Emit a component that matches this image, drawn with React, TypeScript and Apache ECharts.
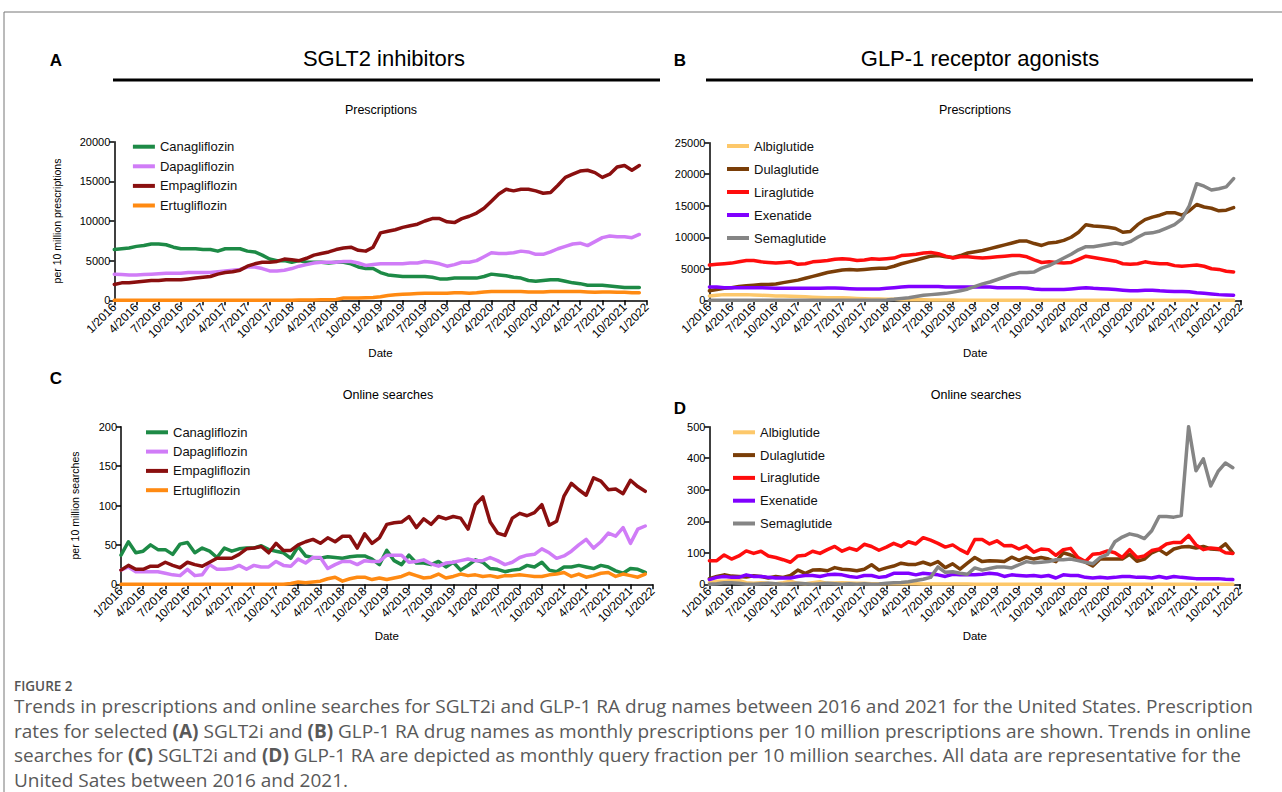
import React, { useEffect, useRef } from "react";
import * as echarts from "echarts";

const X_TICKS = [
  "1/2016", "4/2016", "7/2016", "10/2016", "1/2017", "4/2017", "7/2017", "10/2017",
  "1/2018", "4/2018", "7/2018", "10/2018", "1/2019", "4/2019", "7/2019", "10/2019",
  "1/2020", "4/2020", "7/2020", "10/2020", "1/2021", "4/2021", "7/2021", "10/2021", "1/2022",
];

const SGLT2_NAMES = ["Canagliflozin", "Dapagliflozin", "Empagliflozin", "Ertugliflozin"];
const SGLT2_COLORS = ["#1d8a46", "#d07cf7", "#8a0f0f", "#ff8a12"];
const GLP1_NAMES = ["Albiglutide", "Dulaglutide", "Liraglutide", "Exenatide", "Semaglutide"];
const GLP1_COLORS = ["#fdc86a", "#7a3e08", "#ff0d0d", "#8000ff", "#858585"];

// Panel A: SGLT2 prescriptions per 10 million prescriptions (monthly, 1/2016 - 12/2021)
const A_CANA = [6400, 6500, 6600, 6800, 6900, 7100, 7100, 7000, 6700, 6500, 6500, 6500,
  6400, 6400, 6200, 6500, 6500, 6500, 6200, 6100, 5700, 5200, 5000, 5000,
  4800, 5000, 4800, 4800, 4800, 4700, 4800, 4800, 4600, 4200, 4000, 4000,
  3500, 3200, 3100, 3000, 3000, 3000, 3000, 2900, 2700, 2700, 2800, 2800,
  2800, 2800, 3000, 3300, 3200, 3100, 2900, 2800, 2500, 2400, 2500, 2600,
  2600, 2400, 2200, 2100, 1900, 1900, 1900, 1800, 1700, 1600, 1600, 1600];
const A_DAPA = [3300, 3250, 3200, 3200, 3250, 3300, 3350, 3400, 3400, 3400, 3500, 3500,
  3500, 3500, 3600, 3700, 3800, 3900, 4200, 4200, 4000, 3700, 3700, 3800,
  4000, 4300, 4500, 4700, 4800, 4800, 4800, 4900, 4900, 4700, 4400, 4500,
  4600, 4600, 4600, 4600, 4700, 4700, 4900, 4800, 4600, 4300, 4500, 4800,
  4800, 5000, 5500, 6000, 5900, 5900, 6000, 6200, 6100, 5800, 5800, 6100,
  6500, 6800, 7100, 7200, 6900, 7400, 7900, 8100, 8000, 8000, 7900, 8300];
const A_EMPA = [2000, 2200, 2200, 2300, 2400, 2500, 2500, 2600, 2600, 2600, 2700, 2800,
  2900, 3000, 3300, 3500, 3600, 3800, 4300, 4600, 4800, 4800, 4900, 5200,
  5100, 5000, 5300, 5700, 5900, 6100, 6400, 6600, 6700, 6300, 6200, 6700,
  8500, 8700, 8900, 9200, 9400, 9600, 10000, 10300, 10300, 9900, 9800, 10300,
  10600, 11000, 11600, 12500, 13400, 14000, 13800, 14000, 14000, 13800, 13500, 13600,
  14500, 15500, 15900, 16300, 16400, 16100, 15500, 15900, 16800, 17000, 16400, 17000];
const A_ERTU = [0, 0, 0, 0, 0, 0, 0, 0, 0, 0, 0, 0,
  0, 0, 0, 0, 0, 0, 0, 0, 0, 0, 0, 0,
  20, 30, 40, 50, 60, 80, 100, 300, 300, 300, 320, 350,
  450, 600, 700, 750, 800, 850, 900, 900, 900, 900, 950, 950,
  900, 950, 1050, 1100, 1100, 1100, 1100, 1100, 1050, 1050, 1050, 1100,
  1100, 1100, 1100, 1100, 1050, 1000, 1050, 1050, 1000, 1000, 950, 950];

// Panel B: GLP-1 RA prescriptions per 10 million prescriptions
const B_ALBI = [700, 800, 900, 900, 900, 900, 850, 800, 750, 700, 700, 650,
  600, 550, 500, 450, 400, 400, 400, 350, 300, 250, 200, 200,
  150, 150, 100, 100, 100, 80, 60, 50, 40, 30, 20, 10,
  0, 0, 0, 0, 0, 0, 0, 0, 0, 0, 0, 0,
  0, 0, 0, 0, 0, 0, 0, 0, 0, 0, 0, 0,
  0, 0, 0, 0, 0, 0, 0, 0, 0, 0, 0, 0];
const B_DULA = [1500, 1700, 1900, 2000, 2200, 2300, 2400, 2500, 2500, 2600, 2800, 3000,
  3200, 3500, 3800, 4100, 4400, 4600, 4800, 4900, 4800, 4900, 5000, 5100,
  5100, 5400, 5800, 6100, 6400, 6700, 7000, 7100, 6900, 6800, 7100, 7500,
  7700, 7900, 8200, 8500, 8800, 9100, 9400, 9400, 9000, 8700, 9100, 9200,
  9500, 10000, 10800, 12000, 11800, 11700, 11600, 11400, 10800, 10900, 12000, 12800,
  13200, 13500, 13900, 13900, 13500, 14200, 15200, 14800, 14600, 14200, 14300, 14700];
const B_LIRA = [5600, 5700, 5800, 5900, 6100, 6300, 6300, 6100, 6000, 5900, 6000, 6100,
  5700, 5800, 6100, 6200, 6300, 6500, 6600, 6500, 6300, 6400, 6600, 6500,
  6600, 6700, 7100, 7200, 7300, 7500, 7600, 7400, 7000, 6700, 6900, 6900,
  6800, 6700, 6800, 6900, 7000, 7100, 7100, 6900, 6400, 6000, 6100, 6000,
  5900, 6000, 6500, 7000, 6800, 6600, 6400, 6200, 5800, 5700, 5800, 6100,
  5900, 5800, 5800, 5500, 5400, 5500, 5600, 5400, 5000, 4900, 4600, 4500];
const B_EXEN = [2100, 2100, 2000, 2000, 2000, 2000, 2000, 2000, 1950, 1900, 1900, 1900,
  1900, 1900, 1900, 1900, 1950, 1950, 1900, 1850, 1800, 1800, 1800, 1800,
  1900, 2000, 2100, 2200, 2200, 2200, 2200, 2200, 2100, 2100, 2100, 2100,
  2100, 2100, 2100, 2000, 2000, 2000, 2000, 1950, 1800, 1700, 1700, 1700,
  1700, 1800, 1900, 2000, 1900, 1850, 1800, 1700, 1600, 1500, 1500, 1600,
  1600, 1500, 1450, 1400, 1400, 1350, 1200, 1100, 1000, 900, 850, 800];
const B_SEMA = [0, 0, 0, 0, 0, 0, 0, 0, 0, 0, 0, 0,
  0, 0, 0, 0, 0, 0, 0, 0, 0, 0, 0, 0,
  50, 150, 300, 400, 600, 800, 900, 1000, 1100, 1300, 1500, 1800,
  2200, 2600, 2900, 3300, 3700, 4100, 4400, 4400, 4500, 5100, 5500, 6100,
  6700, 7300, 8000, 8500, 8500, 8700, 8900, 9100, 8900, 9300, 10000, 10600,
  10700, 11000, 11500, 12000, 12900, 15000, 18500, 18100, 17500, 17700, 18000, 19300];

// Panel C: SGLT2 online searches per 10 million searches
const C_CANA = [37, 54, 40, 42, 50, 44, 44, 38, 51, 53, 40, 46,
  42, 34, 46, 42, 45, 46, 46, 49, 44, 42, 40, 33,
  48, 36, 34, 33, 35, 34, 33, 35, 36, 36, 32, 25,
  43, 30, 25, 37, 27, 27, 25, 29, 22, 28, 18, 24,
  31, 28, 20, 19, 16, 18, 19, 24, 22, 28, 18, 16,
  22, 22, 24, 22, 20, 24, 22, 17, 14, 20, 19, 15];
const C_DAPA = [18, 22, 16, 16, 16, 16, 14, 12, 11, 19, 11, 12,
  25, 19, 19, 20, 24, 19, 24, 22, 22, 29, 24, 23,
  32, 27, 34, 34, 20, 25, 29, 29, 25, 30, 29, 29,
  37, 37, 37, 28, 29, 31, 26, 23, 27, 28, 30, 32,
  30, 30, 34, 30, 25, 28, 34, 37, 38, 45, 40, 33,
  36, 42, 50, 57, 46, 54, 65, 61, 72, 52, 70, 74];
const C_EMPA = [18, 24, 19, 19, 23, 23, 28, 24, 21, 28, 25, 23,
  28, 33, 33, 33, 38, 45, 46, 48, 40, 52, 43, 43,
  50, 54, 57, 52, 59, 54, 61, 61, 46, 64, 52, 59,
  76, 78, 79, 86, 72, 83, 76, 86, 83, 86, 84, 70,
  101, 111, 79, 65, 62, 84, 90, 87, 91, 101, 75, 80,
  112, 128, 120, 113, 135, 131, 120, 121, 115, 132, 124, 118];
const C_ERTU = [0, 0, 0, 0, 0, 0, 0, 0, 0, 0, 0, 0,
  0, 0, 0, 0, 0, 0, 0, 0, 0, 0, 0, 1,
  3, 2, 3, 4, 7, 9, 4, 7, 9, 9, 6, 8,
  6, 8, 10, 14, 11, 8, 9, 13, 8, 10, 13, 11,
  12, 10, 11, 9, 11, 11, 12, 11, 10, 10, 12, 13,
  15, 10, 13, 9, 11, 14, 15, 10, 13, 11, 9, 13];

// Panel D: GLP-1 RA online searches per 10 million searches
const D_ALBI = [5, 10, 10, 12, 12, 5, 3, 5, 3, 2, 5, 10,
  3, 2, 5, 8, 3, 4, 5, 4, 3, 3, 2, 2,
  2, 2, 2, 2, 2, 1, 1, 1, 1, 1, 1, 1,
  0, 0, 0, 0, 0, 0, 0, 0, 0, 0, 0, 0,
  0, 0, 0, 0, 0, 0, 0, 0, 0, 0, 0, 0,
  0, 0, 0, 0, 0, 0, 0, 0, 0, 0, 0, 0];
const D_DULA = [18, 25, 30, 26, 25, 23, 27, 25, 20, 25, 22, 28,
  45, 35, 45, 46, 43, 53, 48, 46, 43, 48, 62, 45,
  52, 58, 67, 63, 63, 70, 62, 72, 53, 65, 48, 67,
  85, 72, 75, 74, 72, 86, 76, 86, 80, 85, 80, 72,
  100, 93, 83, 70, 58, 80, 80, 80, 80, 95, 73, 80,
  100, 110, 95, 112, 118, 120, 115, 120, 112, 110, 128, 100];
const D_LIRA = [75, 75, 93, 80, 90, 106, 98, 105, 90, 85, 78, 70,
  90, 92, 105, 98, 110, 120, 105, 115, 108, 127, 120, 108,
  118, 130, 120, 135, 128, 148, 140, 130, 118, 125, 110, 98,
  142, 142, 128, 138, 122, 123, 112, 122, 102, 112, 110, 92,
  110, 114, 85, 72, 95, 98, 106, 100, 85, 110, 85, 90,
  107, 112, 128, 133, 133, 155, 125, 110, 115, 113, 100, 98];
const D_EXEN = [15, 22, 25, 22, 22, 30, 25, 25, 22, 20, 20, 20,
  25, 28, 28, 25, 30, 32, 30, 25, 22, 28, 28, 22,
  25, 35, 35, 35, 30, 35, 33, 30, 25, 32, 30, 30,
  30, 32, 35, 33, 25, 30, 28, 26, 28, 25, 28, 20,
  30, 28, 28, 22, 20, 22, 20, 22, 25, 25, 22, 22,
  20, 25, 20, 25, 22, 20, 18, 18, 18, 18, 16, 15];
const D_SEMA = [0, 2, 5, 5, 3, 0, 0, 2, 3, 2, 0, 2,
  3, 2, 0, 2, 3, 2, 0, 2, 0, 2, 0, 1,
  3, 5, 6, 8, 12, 16, 22, 55, 38, 40, 35, 32,
  52, 45, 50, 55, 55, 52, 62, 72, 68, 70, 72, 78,
  78, 80, 75, 70, 65, 85, 95, 135, 150, 160, 155, 145,
  170, 215, 215, 213, 218, 500, 360, 398, 312, 358, 385, 370];

const FONT = "Liberation Sans, Arial, Helvetica, sans-serif";
const CAP_FONT = "Open Sans, Noto Sans, sans-serif";

const PANELS = [
  {
    grid: { left: 114.3, top: 141.7, width: 532.4, height: 158.6 },
    yMax: 20000, yInt: 5000, yName: "per 10 million prescriptions", yNameGap: 52,
    names: SGLT2_NAMES, colors: SGLT2_COLORS, data: [A_CANA, A_DAPA, A_EMPA, A_ERTU],
    legend: { left: 132.9, top: 139.7, gap: 5.6 }, xNameGap: 47,
  },
  {
    grid: { left: 709.4, top: 142.7, width: 531.6, height: 157.6 },
    yMax: 25000, yInt: 5000, yName: "", yNameGap: 0,
    names: GLP1_NAMES, colors: GLP1_COLORS, data: [B_ALBI, B_DULA, B_LIRA, B_EXEN, B_SEMA],
    legend: { left: 727, top: 139, gap: 9 }, xNameGap: 47,
  },
  {
    grid: { left: 121, top: 426.7, width: 531.6, height: 157.6 },
    yMax: 200, yInt: 50, yName: "per 10 million searches", yNameGap: 41,
    names: SGLT2_NAMES, colors: SGLT2_COLORS, data: [C_CANA, C_DAPA, C_EMPA, C_ERTU],
    legend: { left: 146, top: 425.3, gap: 5.3 }, xNameGap: 46,
  },
  {
    grid: { left: 709.4, top: 426.7, width: 530.8, height: 157.6 },
    yMax: 500, yInt: 100, yName: "", yNameGap: 0,
    names: GLP1_NAMES, colors: GLP1_COLORS, data: [D_ALBI, D_DULA, D_LIRA, D_EXEN, D_SEMA],
    legend: { left: 733, top: 425.3, gap: 8.8 }, xNameGap: 46,
  },
];

const CAPTION_LINES = [
  "Trends in prescriptions and online searches for SGLT2i and GLP-1 RA drug names between 2016 and 2021 for the United States. Prescription",
  "rates for selected {b|(A)} SGLT2i and {b|(B)} GLP-1 RA drug names as monthly prescriptions per 10 million prescriptions are shown. Trends in online",
  "searches for {b|(C)} SGLT2i and {b|(D)} GLP-1 RA are depicted as monthly query fraction per 10 million searches. All data are representative for the",
  "United Sates between 2016 and 2021.",
];

export default function App() {
  const ref = useRef<HTMLDivElement>(null);
  useEffect(() => {
    if (!ref.current) return;
    const chart = echarts.init(ref.current, undefined, { renderer: "svg" });
    const axisLine = { show: true, lineStyle: { color: "#000", width: 1.5 } };
    const axisTick = { show: true, length: 5, lineStyle: { color: "#000", width: 1.5 } };

    const grids: any[] = [];
    const xAxes: any[] = [];
    const yAxes: any[] = [];
    const legends: any[] = [];
    const series: any[] = [];

    PANELS.forEach((p, k) => {
      grids.push({ ...p.grid, containLabel: false });
      xAxes.push({
        type: "value", gridIndex: k, min: 0, max: 72, interval: 3,
        axisLine, axisTick, splitLine: { show: false },
        axisLabel: {
          rotate: 45, fontSize: 12, color: "#000", fontFamily: FONT, margin: 5,
          showMinLabel: true, showMaxLabel: true,
          formatter: (v: number) => X_TICKS[Math.round(v / 3)] ?? "",
        },
        name: "Date", nameLocation: "middle", nameGap: p.xNameGap,
        nameTextStyle: { fontSize: 11.5, color: "#000", fontFamily: FONT },
      });
      yAxes.push({
        type: "value", gridIndex: k, min: 0, max: p.yMax, interval: p.yInt,
        axisLine, axisTick, splitLine: { show: false },
        axisLabel: { fontSize: 11, color: "#000", fontFamily: FONT, margin: 4, formatter: (v: number) => String(v) },
        name: p.yName, nameLocation: "middle", nameRotate: 90, nameGap: p.yNameGap,
        nameTextStyle: { fontSize: 10.5, color: "#000", fontFamily: FONT },
      });
      legends.push({
        orient: "vertical", left: p.legend.left, top: p.legend.top, padding: 0,
        itemGap: p.legend.gap, itemWidth: 22, itemHeight: 4, icon: "rect",
        data: p.names,
        textStyle: { fontSize: 13, color: "#111", fontFamily: FONT, lineHeight: 14 },
        selectedMode: false,
      });
      p.names.forEach((n, j) => {
        series.push({
          type: "line", name: n, xAxisIndex: k, yAxisIndex: k,
          showSymbol: false, symbol: "none",
          color: p.colors[j],
          lineStyle: { width: 3.5, color: p.colors[j], cap: "round", join: "round" },
          data: p.data[j].map((v, i) => [i, v]),
        });
      });
    });

    const graphic: any[] = [
      { type: "line", shape: { x1: 4, y1: 12, x2: 1282, y2: 12 }, style: { stroke: "#777", lineWidth: 1 } },
      { type: "line", shape: { x1: 4, y1: 12, x2: 4, y2: 792 }, style: { stroke: "#777", lineWidth: 1 } },
      { type: "text", x: 56, y: 60, style: { text: "A", font: `bold 17px ${FONT}`, fill: "#000", align: "center", verticalAlign: "middle" } },
      { type: "text", x: 680, y: 60, style: { text: "B", font: `bold 17px ${FONT}`, fill: "#000", align: "center", verticalAlign: "middle" } },
      { type: "text", x: 56, y: 378, style: { text: "C", font: `bold 17px ${FONT}`, fill: "#000", align: "center", verticalAlign: "middle" } },
      { type: "text", x: 680, y: 408, style: { text: "D", font: `bold 17px ${FONT}`, fill: "#000", align: "center", verticalAlign: "middle" } },
      { type: "text", x: 384, y: 58, style: { text: "SGLT2 inhibitors", font: `22px ${FONT}`, fill: "#000", align: "center", verticalAlign: "middle" } },
      { type: "text", x: 980, y: 58, style: { text: "GLP-1 receptor agonists", font: `22px ${FONT}`, fill: "#000", align: "center", verticalAlign: "middle" } },
      { type: "line", shape: { x1: 113, y1: 80, x2: 660, y2: 80 }, style: { stroke: "#000", lineWidth: 3 } },
      { type: "line", shape: { x1: 706, y1: 80, x2: 1253, y2: 80 }, style: { stroke: "#000", lineWidth: 3 } },
      { type: "text", x: 381, y: 110, style: { text: "Prescriptions", font: `12.5px ${FONT}`, fill: "#000", align: "center", verticalAlign: "middle" } },
      { type: "text", x: 975, y: 110, style: { text: "Prescriptions", font: `12.5px ${FONT}`, fill: "#000", align: "center", verticalAlign: "middle" } },
      { type: "text", x: 388, y: 395, style: { text: "Online searches", font: `12.5px ${FONT}`, fill: "#000", align: "center", verticalAlign: "middle" } },
      { type: "text", x: 976, y: 395, style: { text: "Online searches", font: `12.5px ${FONT}`, fill: "#000", align: "center", verticalAlign: "middle" } },
      { type: "text", x: 14, y: 686, style: { text: "FIGURE 2", font: `600 13.5px ${CAP_FONT}`, fill: "#555", align: "left", verticalAlign: "middle", lineHeight: 14 } },
    ];
    CAPTION_LINES.forEach((t, i) => {
      graphic.push({
        type: "text", x: 14, y: 706 + i * 24.7,
        style: {
          text: t, fontFamily: CAP_FONT, fontSize: 19, lineHeight: 20, fill: "#595959", align: "left", verticalAlign: "middle",
          rich: { b: { fontFamily: CAP_FONT, fontSize: 19, lineHeight: 20, fontWeight: "bold", fill: "#595959" } },
        },
      });
    });

    chart.setOption({
      animation: false,
      backgroundColor: "#fff",
      textStyle: { fontFamily: FONT },
      grid: grids,
      xAxis: xAxes,
      yAxis: yAxes,
      legend: legends,
      series,
      graphic,
    });
    return () => chart.dispose();
  }, []);
  return <div ref={ref} style={{ position: "absolute", left: 0, top: 0, width: 1282, height: 792 }} />;
}
